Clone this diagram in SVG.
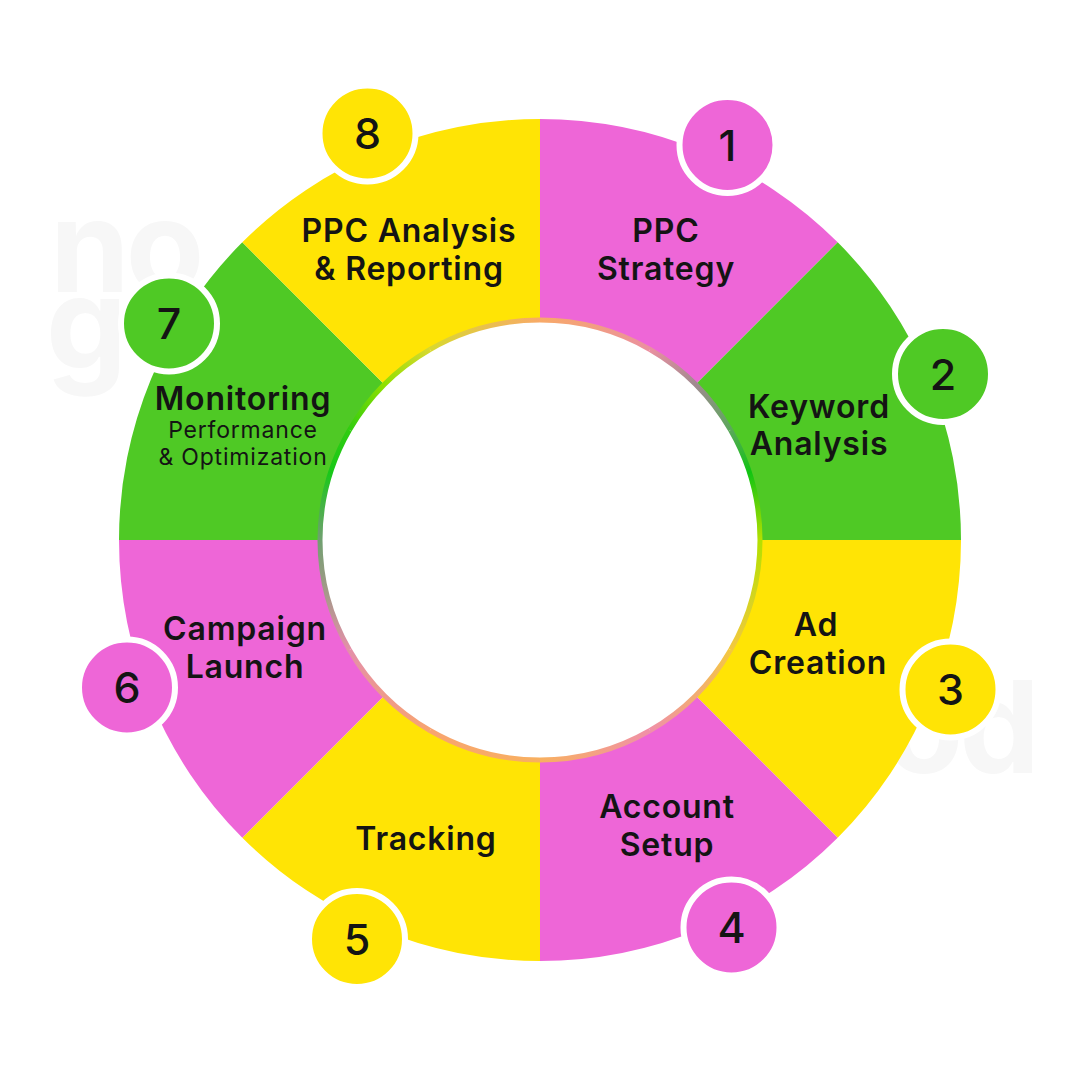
<svg xmlns="http://www.w3.org/2000/svg" width="1080" height="1080" viewBox="0 0 1080 1080">
<style>
.pink{fill:#EE66D7}
.green{fill:#4FC925}
.yellow{fill:#FFE405}
.lbl{font-family:Inter,"Liberation Sans",sans-serif;font-weight:600;font-size:32px;letter-spacing:0.8px;fill:#141414;text-anchor:middle}
.sub{font-family:Inter,"Liberation Sans",sans-serif;font-weight:400;font-size:23px;letter-spacing:0.8px;fill:#141414;text-anchor:middle}
.num{font-family:Inter,"Liberation Sans",sans-serif;font-weight:500;font-size:43px;fill:#141414;text-anchor:middle}
.badge{stroke:#FFFFFF;stroke-width:6}
.wm{font-family:Inter,"Liberation Sans",sans-serif;font-weight:700;font-size:128px;fill:#F7F7F7}
.ring{fill:none;stroke-width:5}
</style>
<defs>
<linearGradient id="g0" gradientUnits="userSpaceOnUse" x1="540" y1="320" x2="650" y2="349.47"><stop offset="0" stop-color="#F8AA68"/><stop offset="1" stop-color="#EA90A0"/></linearGradient>
<linearGradient id="g1" gradientUnits="userSpaceOnUse" x1="650" y1="349.47" x2="730.53" y2="430"><stop offset="0" stop-color="#EA90A0"/><stop offset="0.5" stop-color="#A08A90"/><stop offset="1" stop-color="#5AA85A"/></linearGradient>
<linearGradient id="g2" gradientUnits="userSpaceOnUse" x1="730.53" y1="430" x2="760" y2="540"><stop offset="0" stop-color="#5AA85A"/><stop offset="0.4" stop-color="#10C412"/><stop offset="1" stop-color="#B4E000"/></linearGradient>
<linearGradient id="g3" gradientUnits="userSpaceOnUse" x1="760" y1="540" x2="730.53" y2="650"><stop offset="0" stop-color="#B4E000"/><stop offset="1" stop-color="#F4C840"/></linearGradient>
<linearGradient id="g4" gradientUnits="userSpaceOnUse" x1="730.53" y1="650" x2="650" y2="730.53"><stop offset="0" stop-color="#F4C840"/><stop offset="1" stop-color="#F090A8"/></linearGradient>
<linearGradient id="g5" gradientUnits="userSpaceOnUse" x1="650" y1="730.53" x2="540" y2="760"><stop offset="0" stop-color="#F090A8"/><stop offset="1" stop-color="#F8B060"/></linearGradient>
<linearGradient id="g6" gradientUnits="userSpaceOnUse" x1="540" y1="760" x2="430" y2="730.53"><stop offset="0" stop-color="#F8B060"/><stop offset="1" stop-color="#F8A470"/></linearGradient>
<linearGradient id="g7" gradientUnits="userSpaceOnUse" x1="430" y1="730.53" x2="349.47" y2="650"><stop offset="0" stop-color="#F8A470"/><stop offset="1" stop-color="#E490A8"/></linearGradient>
<linearGradient id="g8" gradientUnits="userSpaceOnUse" x1="349.47" y1="650" x2="320" y2="540"><stop offset="0" stop-color="#E490A8"/><stop offset="1" stop-color="#70A070"/></linearGradient>
<linearGradient id="g9" gradientUnits="userSpaceOnUse" x1="320" y1="540" x2="349.47" y2="430"><stop offset="0" stop-color="#70A070"/><stop offset="0.6" stop-color="#18C818"/><stop offset="1" stop-color="#30CC10"/></linearGradient>
<linearGradient id="g10" gradientUnits="userSpaceOnUse" x1="349.47" y1="430" x2="430" y2="349.47"><stop offset="0" stop-color="#30CC10"/><stop offset="0.5" stop-color="#90E000"/><stop offset="1" stop-color="#D8D830"/></linearGradient>
<linearGradient id="g11" gradientUnits="userSpaceOnUse" x1="430" y1="349.47" x2="540" y2="320"><stop offset="0" stop-color="#D8D830"/><stop offset="1" stop-color="#F8AA68"/></linearGradient>
</defs>
<rect width="1080" height="1080" fill="#FFFFFF"/>
<g id="watermark">
<text class="wm" x="50" y="292" letter-spacing="-4">no</text>
<text class="wm" x="46" y="369" letter-spacing="-4">go</text>
<text class="wm" x="1036" y="773" text-anchor="end" letter-spacing="-4">od</text>
</g>
<g id="node1">
<path class="pink" d="M540,119 A421,421 0 0 1 837.69,242.31 L695.56,384.44 A220,220 0 0 0 540,320 Z"/>
<circle class="pink badge" cx="727.5" cy="145" r="48"/>
<text class="num" x="727.5" y="161">1</text>
<text class="lbl" x="666" y="242">PPC</text>
<text class="lbl" x="666" y="280">Strategy</text>
</g>
<g id="node2">
<path class="green" d="M837.69,242.31 A421,421 0 0 1 961,540 L760,540 A220,220 0 0 0 695.56,384.44 Z"/>
<circle class="green badge" cx="943" cy="374" r="48"/>
<text class="num" x="943" y="390">2</text>
<text class="lbl" x="819" y="418">Keyword</text>
<text class="lbl" x="819" y="455">Analysis</text>
</g>
<g id="node3">
<path class="yellow" d="M961,540 A421,421 0 0 1 837.69,837.69 L695.56,695.56 A220,220 0 0 0 760,540 Z"/>
<circle class="yellow badge" cx="950.5" cy="689.5" r="48"/>
<text class="num" x="950.5" y="705">3</text>
<text class="lbl" x="816" y="636">Ad</text>
<text class="lbl" x="818" y="674">Creation</text>
</g>
<g id="node4">
<path class="pink" d="M837.69,837.69 A421,421 0 0 1 540,961 L540,760 A220,220 0 0 0 695.56,695.56 Z"/>
<circle class="pink badge" cx="731.5" cy="927.5" r="48"/>
<text class="num" x="731.5" y="943">4</text>
<text class="lbl" x="667" y="818">Account</text>
<text class="lbl" x="667" y="856">Setup</text>
</g>
<g id="node5">
<path class="yellow" d="M540,961 A421,421 0 0 1 242.31,837.69 L384.44,695.56 A220,220 0 0 0 540,760 Z"/>
<circle class="yellow badge" cx="357" cy="939" r="48"/>
<text class="num" x="357" y="955">5</text>
<text class="lbl" x="426" y="850">Tracking</text>
</g>
<g id="node6">
<path class="pink" d="M242.31,837.69 A421,421 0 0 1 119,540 L320,540 A220,220 0 0 0 384.44,695.56 Z"/>
<circle class="pink badge" cx="127" cy="687.5" r="48"/>
<text class="num" x="127" y="703">6</text>
<text class="lbl" x="245" y="640">Campaign</text>
<text class="lbl" x="245" y="678">Launch</text>
</g>
<g id="node7">
<path class="green" d="M119,540 A421,421 0 0 1 242.31,242.31 L384.44,384.44 A220,220 0 0 0 320,540 Z"/>
<circle class="green badge" cx="169" cy="323.5" r="48"/>
<text class="num" x="169" y="339">7</text>
<text class="lbl" x="243" y="410">Monitoring</text>
<text class="sub" x="243" y="438">Performance</text>
<text class="sub" x="243" y="465">&amp; Optimization</text>
</g>
<g id="node8">
<path class="yellow" d="M242.31,242.31 A421,421 0 0 1 540,119 L540,320 A220,220 0 0 0 384.44,384.44 Z"/>
<circle class="yellow badge" cx="367.5" cy="133.5" r="48"/>
<text class="num" x="367.5" y="149">8</text>
<text class="lbl" x="409" y="242">PPC Analysis</text>
<text class="lbl" x="409" y="280">&amp; Reporting</text>
</g>
<g id="center">
<circle cx="540" cy="540" r="220" fill="#FFFFFF"/>
<path class="ring" stroke="url(#g0)" d="M540,320 A220,220 0 0 1 650,349.47"/>
<path class="ring" stroke="url(#g1)" d="M650,349.47 A220,220 0 0 1 730.53,430"/>
<path class="ring" stroke="url(#g2)" d="M730.53,430 A220,220 0 0 1 760,540"/>
<path class="ring" stroke="url(#g3)" d="M760,540 A220,220 0 0 1 730.53,650"/>
<path class="ring" stroke="url(#g4)" d="M730.53,650 A220,220 0 0 1 650,730.53"/>
<path class="ring" stroke="url(#g5)" d="M650,730.53 A220,220 0 0 1 540,760"/>
<path class="ring" stroke="url(#g6)" d="M540,760 A220,220 0 0 1 430,730.53"/>
<path class="ring" stroke="url(#g7)" d="M430,730.53 A220,220 0 0 1 349.47,650"/>
<path class="ring" stroke="url(#g8)" d="M349.47,650 A220,220 0 0 1 320,540"/>
<path class="ring" stroke="url(#g9)" d="M320,540 A220,220 0 0 1 349.47,430"/>
<path class="ring" stroke="url(#g10)" d="M349.47,430 A220,220 0 0 1 430,349.47"/>
<path class="ring" stroke="url(#g11)" d="M430,349.47 A220,220 0 0 1 540,320"/>
</g>
<g id="connectors"></g>
</svg>
